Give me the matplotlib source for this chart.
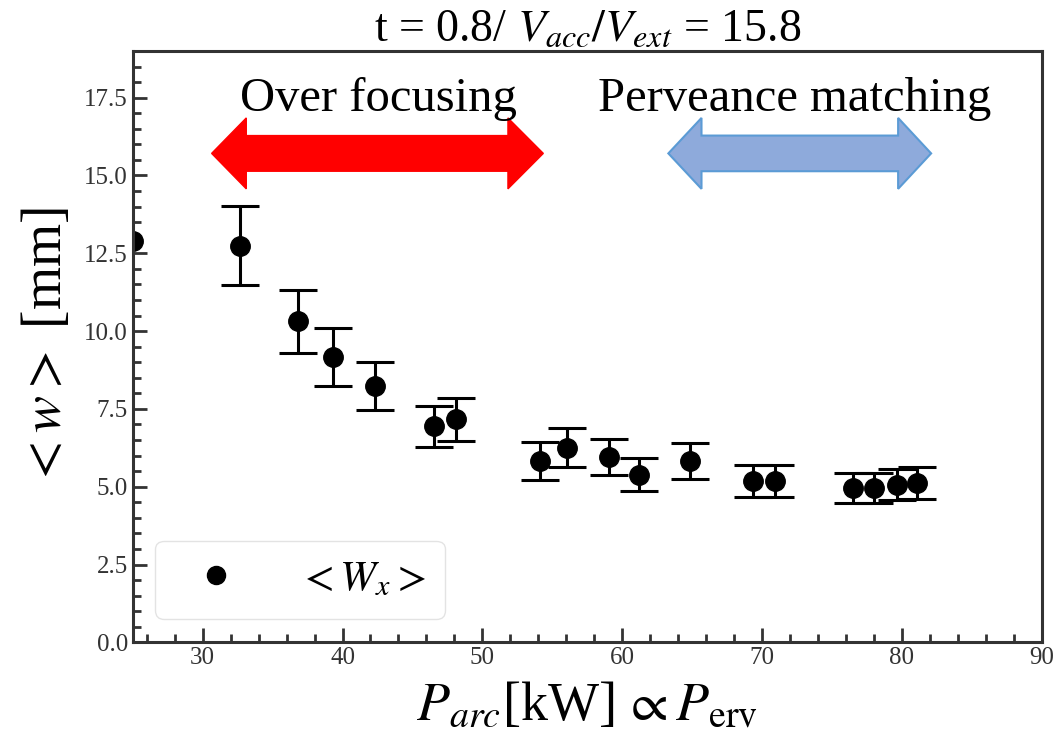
import matplotlib
matplotlib.use("Agg")
import matplotlib.pyplot as plt
from matplotlib.lines import Line2D
from matplotlib.patches import Polygon
from matplotlib.ticker import MultipleLocator

plt.rcParams['font.family'] = ['Liberation Serif', 'DejaVu Serif']
plt.rcParams['mathtext.fontset'] = 'stix'

# arc power [kW] and mean beam width <w> [mm] with error (first one has no bar)
p_arc = [25.0, 32.67, 36.82, 39.32, 42.32, 46.54, 48.11, 54.12, 56.05, 59.05,
         61.22, 64.85, 69.38, 70.93, 76.49, 78.03, 79.63, 81.06]
w_x = [12.91, 12.75, 10.31, 9.16, 8.23, 6.94, 7.17, 5.82, 6.25, 5.96,
       5.39, 5.82, 5.18, 5.18, 4.96, 4.96, 5.07, 5.12]
w_err = [float('nan'), 1.28, 1.02, 0.93, 0.78, 0.66, 0.69, 0.61, 0.63, 0.58,
         0.53, 0.58, 0.51, 0.51, 0.49, 0.49, 0.50, 0.50]

# regions marked with double arrows (tip, head base, head base, tip)
over_focus = (30.64, 33.12, 51.83, 54.36)
perv_match = (63.30, 65.67, 79.73, 82.09)
arrow_y = 15.71


def double_arrow(ax, xs, yc, half_w, half_h, **kw):
    x0, x1, x2, x3 = xs
    pts = [(x0, yc), (x1, yc + half_h), (x1, yc + half_w), (x2, yc + half_w),
           (x2, yc + half_h), (x3, yc), (x2, yc - half_h), (x2, yc - half_w),
           (x1, yc - half_w), (x1, yc - half_h)]
    ax.add_patch(Polygon(pts, closed=True, **kw))


fig = plt.figure(figsize=(10.56, 7.35), dpi=100)
ax = fig.add_axes([0.1257, 0.1261, 0.8608, 0.8045])

ax.errorbar(p_arc, w_x, yerr=w_err, fmt='o', color='black', markersize=14,
            capsize=14, elinewidth=2.2, capthick=2.2)

double_arrow(ax, over_focus, arrow_y, 0.573, 1.14, facecolor='#ff0000',
             edgecolor='#ff0000', linewidth=1)
double_arrow(ax, perv_match, arrow_y, 0.573, 1.14, facecolor='#8eaadb',
             edgecolor='#5b9bd5', linewidth=1.5)
ax.text(42.54, 17.45, 'Over focusing', ha='center', va='center', fontsize=35)
ax.text(72.3, 17.45, 'Perveance matching', ha='center', va='center', fontsize=35)

ax.set_xlim(25, 90)
ax.set_ylim(0, 19)
ax.xaxis.set_major_locator(MultipleLocator(10))
ax.xaxis.set_minor_locator(MultipleLocator(2))
ax.yaxis.set_major_locator(MultipleLocator(2.5))
ax.yaxis.set_minor_locator(MultipleLocator(0.5))
ax.tick_params(which='both', direction='in', labelsize=18, width=2,
               color='#333333', labelcolor='#333333')
ax.tick_params(which='major', length=10)
ax.tick_params(which='minor', length=6)
for s in ax.spines.values():
    s.set_linewidth(2.2)
    s.set_color('#333333')

ax.set_xlabel(r'$P_{arc}$[kW]$\,\propto P_{\rm erv}$', fontsize=39, labelpad=9)
ax.set_ylabel(r'$<w>$ [mm]', fontsize=40, labelpad=8)
ax.set_title(r't = 0.8/ $V_{acc}/V_{ext}$ = 15.8', fontsize=33, pad=6)

handle = Line2D([], [], marker='o', linestyle='none', color='black', markersize=13)
ax.legend([handle], [r'$<W_x>$'], loc='lower left', fontsize=31,
          handletextpad=0.95, handlelength=1.9, borderpad=0.45, borderaxespad=0,
          frameon=True, edgecolor='#dddddd', bbox_to_anchor=(0.025, 0.04))

fig.savefig('out.png', dpi=100)
